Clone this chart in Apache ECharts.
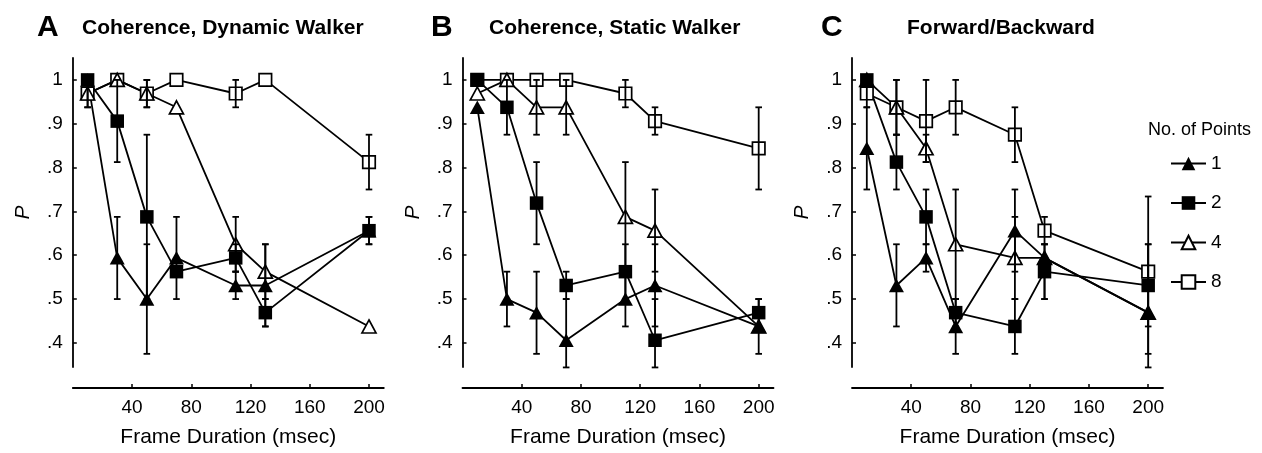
<!DOCTYPE html>
<html><head><meta charset="utf-8">
<script src="https://cdn.jsdelivr.net/npm/echarts@6/dist/echarts.min.js"></script>
<style>html,body{margin:0;padding:0;background:#fff}#c{width:1262px;height:453px}</style>
</head><body><div id="c"></div>
<script>
// ---- data ----
const durations = [10, 30, 50, 70, 110, 130, 200];
const xTicks = [40, 80, 120, 160, 200];
const yTicks = [0.4, 0.5, 0.6, 0.7, 0.8, 0.9, 1.0];
const groupNames = ['1', '2', '4', '8'];
const panelLetters = ['A', 'B', 'C'];
const panelTitles = ['Coherence, Dynamic Walker', 'Coherence, Static Walker', 'Forward/Backward'];

// Panel A
const A_1 = [1.0, 0.594, 0.5, 0.594, 0.531, 0.531, 0.656];
const A_1_lo = [0.9375, 0.5, 0.375, 0.5, 0.5, 0.4375, 0.625];
const A_1_hi = [1.0, 0.6875, 0.625, 0.6875, 0.5625, 0.625, 0.6875];
const A_2 = [1.0, 0.906, 0.6875, 0.5625, 0.594, 0.469, 0.656];
const A_2_lo = [null, 0.8125, 0.5, null, 0.5625, 0.4375, 0.625];
const A_2_hi = [null, 1.0, 0.875, null, 0.625, 0.5, 0.6875];
const A_4 = [0.969, 1.0, 0.969, 0.9375, 0.625, 0.5625, 0.4375];
const A_4_lo = [null, null, 0.9375, null, 0.5625, 0.5, null];
const A_4_hi = [null, null, 1.0, null, 0.6875, 0.625, null];
const A_8 = [0.969, 1.0, 0.969, 1.0, 0.969, 1.0, 0.8125];
const A_8_lo = [0.9375, null, 0.9375, null, 0.9375, null, 0.75];
const A_8_hi = [1.0, null, 1.0, null, 1.0, null, 0.875];

// Panel B
const B_1 = [0.9375, 0.5, 0.469, 0.406, 0.5, 0.531, 0.4375];
const B_1_lo = [null, 0.4375, 0.375, 0.344, 0.4375, 0.4375, 0.375];
const B_1_hi = [null, 0.5625, 0.5625, 0.5, 0.5625, 0.625, 0.5];
const B_2 = [1.0, 0.9375, 0.719, 0.531, 0.5625, 0.406, 0.469];
const B_2_lo = [null, 0.875, 0.625, 0.5, 0.5, 0.344, 0.4375];
const B_2_hi = [null, 1.0, 0.8125, 0.5625, 0.625, 0.5, 0.5];
const B_4 = [0.969, 1.0, 0.9375, 0.9375, 0.6875, 0.656, 0.4375];
const B_4_lo = [null, null, 0.875, 0.875, 0.5625, 0.5625, null];
const B_4_hi = [null, null, 1.0, 1.0, 0.8125, 0.75, null];
const B_8 = [1.0, 1.0, 1.0, 1.0, 0.969, 0.906, 0.844];
const B_8_lo = [null, null, null, null, 0.9375, 0.875, 0.75];
const B_8_hi = [null, null, null, null, 1.0, 0.9375, 0.9375];

// Panel C
const C_1 = [0.844, 0.531, 0.594, 0.4375, 0.656, 0.594, 0.469];
const C_1_lo = [0.75, 0.4375, 0.5625, 0.375, 0.5625, 0.5, 0.344];
const C_1_hi = [0.9375, 0.625, 0.625, 0.5, 0.75, 0.625, 0.625];
const C_2 = [1.0, 0.8125, 0.6875, 0.469, 0.4375, 0.5625, 0.531];
const C_2_lo = [null, 0.75, 0.625, 0.4375, 0.375, 0.5, 0.4375];
const C_2_hi = [null, 0.875, 0.75, 0.5, 0.5, 0.625, 0.625];
const C_4 = [1.0, 0.9375, 0.844, 0.625, 0.594, 0.594, 0.469];
const C_4_lo = [null, 0.875, 0.8125, 0.5, 0.5, null, null];
const C_4_hi = [null, 1.0, 0.875, 0.75, 0.6875, null, null];
const C_8 = [0.969, 0.9375, 0.906, 0.9375, 0.875, 0.656, 0.5625];
const C_8_lo = [0.9375, 0.875, 0.8125, 0.875, 0.8125, 0.625, 0.375];
const C_8_hi = [1.0, 1.0, 1.0, 1.0, 0.9375, 0.6875, 0.734];

const panels = [
  [[A_1, A_1_lo, A_1_hi], [A_2, A_2_lo, A_2_hi], [A_4, A_4_lo, A_4_hi], [A_8, A_8_lo, A_8_hi]],
  [[B_1, B_1_lo, B_1_hi], [B_2, B_2_lo, B_2_hi], [B_4, B_4_lo, B_4_hi], [B_8, B_8_lo, B_8_hi]],
  [[C_1, C_1_lo, C_1_hi], [C_2, C_2_lo, C_2_hi], [C_4, C_4_lo, C_4_hi], [C_8, C_8_lo, C_8_hi]]
];

// ---- styles ----
const FONT = '"Liberation Sans", Arial, Helvetica, sans-serif';
const gridLefts = [72.8, 462.5, 852];
const groupSymbol = ['triangle', 'rect', 'triangle', 'rect'];
const groupFilled = [true, true, false, false];
const groupSize = [[15, 13.5], [13.5, 13.5], [14, 13], [12.5, 12.5]];
const LW = 1.8;

const grids = [], xAxes = [], yAxes = [], series = [], titles = [];
panelLetters.forEach((L, p) => {
  grids.push({left: gridLefts[p], top: 58, width: 311, height: 312});
  xAxes.push({
    type: 'value', gridIndex: p, min: 0, max: 210, offset: 21,
    name: 'Frame Duration (msec)', nameLocation: 'middle', nameGap: 39,
    nameTextStyle: {fontFamily: FONT, fontSize: 21, color: '#000'},
    splitLine: {show: false},
    axisLine: {lineStyle: {color: '#000', width: 1.8}},
    axisTick: {inside: true, length: 4, customValues: xTicks, lineStyle: {color: '#000', width: 1.5}},
    axisLabel: {customValues: xTicks, margin: 10, fontFamily: FONT, fontSize: 19, color: '#000'}
  });
  yAxes.push({
    type: 'value', gridIndex: p, min: 0.345, max: 1.05,
    name: 'P', nameLocation: 'middle', nameGap: 39, nameRotate: 90,
    nameTextStyle: {fontFamily: FONT, fontSize: 21, fontStyle: 'italic', color: '#000'},
    splitLine: {show: false},
    axisLine: {show: true, lineStyle: {color: '#000', width: 1.8}},
    axisTick: {show: true, inside: true, length: 4, customValues: yTicks, lineStyle: {color: '#000', width: 1.5}},
    axisLabel: {customValues: yTicks, margin: 10, fontFamily: FONT, fontSize: 19, color: '#000',
      formatter: v => (Math.abs(v - 1) < 1e-6 ? '1' : '.' + Math.round(v * 10))}
  });
  titles.push({text: L, left: [37, 431, 821][p], top: 13, padding: 0,
    textStyle: {fontFamily: FONT, fontSize: 30, fontWeight: 'bold', color: '#000'}});
  titles.push({text: panelTitles[p], left: [82, 489, 907][p], top: 18, padding: 0,
    textStyle: {fontFamily: FONT, fontSize: 21, fontWeight: 'bold', color: '#000'}});

  const order = [3, 2, 1, 0];
  order.forEach(g => {
    const vals = panels[p][g][0];
    series.push({
      type: 'line', name: groupNames[g], xAxisIndex: p, yAxisIndex: p,
      data: durations.map((d, i) => [d, vals[i]]),
      symbol: groupSymbol[g], symbolSize: groupSize[g], showAllSymbol: true,
      lineStyle: {color: '#000', width: LW},
      itemStyle: groupFilled[g] ? {color: '#000', borderColor: '#000', borderWidth: 0}
                               : {color: '#fff', borderColor: '#000', borderWidth: 1.7},
      emphasis: {disabled: true}, z: 2, clip: false
    });
  });
  const errData = [];
  panels[p].forEach(([vals, lo, hi]) => {
    durations.forEach((d, i) => { if (lo[i] != null) errData.push([d, lo[i], hi[i]]); });
  });
  series.push({
    type: 'custom', xAxisIndex: p, yAxisIndex: p, z: 3, silent: true,
    data: errData, clip: false,
    renderItem: (params, api) => {
      const x = api.value(0);
      const a = api.coord([x, api.value(1)]);
      const b = api.coord([x, api.value(2)]);
      const st = {stroke: '#000', lineWidth: LW};
      const w = 3.3;
      return {type: 'group', children: [
        {type: 'line', shape: {x1: a[0], y1: a[1], x2: b[0], y2: b[1]}, style: st},
        {type: 'line', shape: {x1: a[0] - w, y1: a[1], x2: a[0] + w, y2: a[1]}, style: st},
        {type: 'line', shape: {x1: b[0] - w, y1: b[1], x2: b[0] + w, y2: b[1]}, style: st}
      ]};
    }
  });
});

titles.push({text: 'No. of Points', left: 1148, top: 121, padding: 0,
  textStyle: {fontFamily: FONT, fontSize: 18, fontWeight: 'normal', color: '#000'}});

const chart = echarts.init(document.getElementById('c'), null, {renderer: 'canvas'});
chart.setOption({
  animation: false,
  backgroundColor: '#fff',
  title: titles,
  grid: grids, xAxis: xAxes, yAxis: yAxes,
  legend: {
    data: groupNames, orient: 'vertical', left: 1170, top: 154, padding: 0,
    itemWidth: 35, itemHeight: 17, itemGap: 20.5, selectedMode: false,
    textStyle: {fontFamily: FONT, fontSize: 19, color: '#000'}
  },
  series: series
});
</script></body></html>
